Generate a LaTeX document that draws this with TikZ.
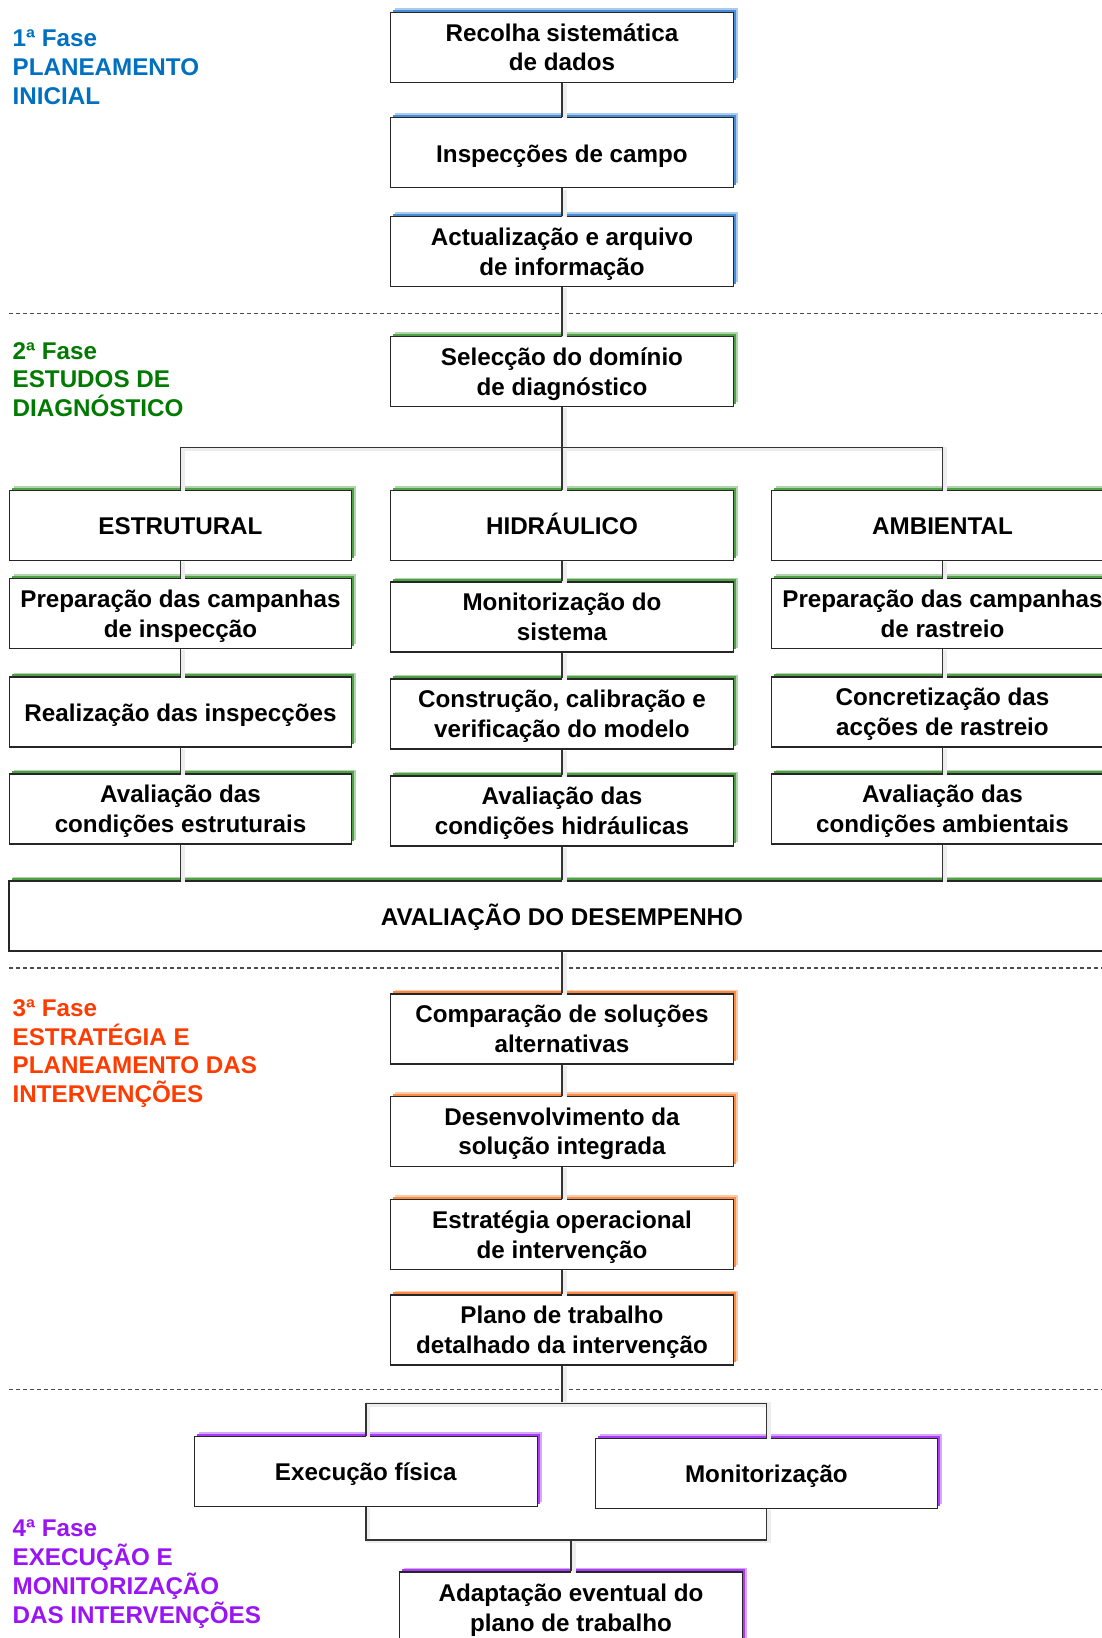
\documentclass[tikz,border=0pt]{standalone}
\usepackage{fontspec}
\setmainfont{Liberation Sans}
\usetikzlibrary{shadows}
\definecolor{phA}{RGB}{0,112,192}
\definecolor{phB}{RGB}{0,122,0}
\definecolor{phC}{RGB}{255,60,0}
\definecolor{phD}{RGB}{155,20,245}
\definecolor{shA}{RGB}{70,140,215}
\definecolor{shB}{RGB}{80,160,70}
\definecolor{shC}{RGB}{250,140,70}
\definecolor{shD}{RGB}{170,60,255}
\newcommand\bxfont{\fontsize{12.1}{14.4}\selectfont\bfseries}
\newcommand\bfbox{\fontsize{12.1}{14.9}\selectfont\bfseries}
\newcommand\topstrut{\rule{0pt}{12.8pt}}
\newcommand\botstrut{\rule[-3.5pt]{0pt}{3.5pt}}
\newcommand\twol[2]{\rule{0pt}{12.16pt}#1\\#2\rule[-3.5pt]{0pt}{3.5pt}}
\begin{document}
\begin{tikzpicture}[x=0.5pt,y=-0.5pt,
  box/.style={draw=black!85, line width=0.6pt, fill=white,
    minimum width=171.3pt, minimum height=35pt, inner sep=0pt,
    align=center, font=\bfbox,
    execute at begin node=\topstrut, execute at end node=\botstrut,
    general shadow={fill=#1, opacity=0.45, shadow xshift=2.2pt, shadow yshift=2.2pt},
    general shadow={fill=#1, shadow xshift=1.3pt, shadow yshift=1.3pt}},
  conn/.style={draw=black!80, line width=0.7pt,
    preaction={draw=black!7, line width=2.2pt, transform canvas={xshift=1.2pt, yshift=-0.6pt}}},
  sep/.style={draw=black!70, line width=0.6pt, dash pattern=on 2pt off 1.5pt},
  phase/.style={inner sep=0pt, align=left, text=#1, font=\bxfont, anchor=north west}]
\useasboundingbox (0,0) rectangle (1102,1638);
\clip (0,0) rectangle (1102,1638);
\fill[white] (0,0) rectangle (1102,1638);

% separators
\coordinate (s1a) at (9,313.4); \coordinate (s1b) at (1102,313.4);
\coordinate (s2a) at (9,968); \coordinate (s2b) at (1102,968);
\coordinate (s3a) at (9,1389.3); \coordinate (s3b) at (1102,1389.3);
\draw[sep] (s1a) -- (s1b);
\draw[sep] (s2a) -- (s2b);
\draw[sep] (s3a) -- (s3b);

% phase labels
\node[phase=phA] (L1) at (12.3,29.3) {1ª Fase\\PLANEAMENTO\\INICIAL};
\node[phase=phB] (L2) at (12.3,341.7) {2ª Fase\\ESTUDOS DE\\DIAGNÓSTICO};
\node[phase=phC] (L3) at (12.3,999) {3ª Fase\\ESTRATÉGIA E\\PLANEAMENTO DAS\\INTERVENÇÕES};
\node[phase=phD] (L4) at (12.3,1519.5) {4ª Fase\\EXECUÇÃO E\\MONITORIZAÇÃO\\DAS INTERVENÇÕES};

% phase 1
\node[box=shA] (n1) at (562,47.3) {\twol{Recolha sistemática}{de dados}};
\node[box=shA] (n2) at (562,152.8) {Inspecções de campo};
\node[box=shA] (n3) at (562,251.5) {\twol{Actualização e arquivo}{de informação}};

% phase 2
\node[box=shB] (sel) at (562,371.5) {\twol{Selecção do domínio}{de diagnóstico}};
\node[box=shB] (est) at (180.5,525.5) {ESTRUTURAL};
\node[box=shB] (hid) at (562,525.5) {HIDRÁULICO};
\node[box=shB] (amb) at (942.5,525.5) {AMBIENTAL};
\node[box=shB] (e2) at (180.5,613.5) {\twol{Preparação das campanhas}{de inspecção}};
\node[box=shB] (h2) at (562,617) {\twol{Monitorização do}{sistema}};
\node[box=shB] (a2) at (942.5,613.5) {\twol{Preparação das campanhas}{de rastreio}};
\node[box=shB] (e3) at (180.5,712) {Realização das inspecções};
\node[box=shB] (h3) at (562,714) {\twol{Construção, calibração e}{verificação do modelo}};
\node[box=shB] (a3) at (942.5,712) {\twol{Concretização das}{acções de rastreio}};
\node[box=shB] (e4) at (180.5,809) {\twol{Avaliação das}{condições estruturais}};
\node[box=shB] (h4) at (562,811) {\twol{Avaliação das}{condições hidráulicas}};
\node[box=shB] (a4) at (942.5,809) {\twol{Avaliação das}{condições ambientais}};
\node[box=shB, minimum width=553pt] (perf) at (562,916) {AVALIAÇÃO DO DESEMPENHO};

% phase 3
\node[box=shC] (c1) at (562,1029) {\twol{Comparação de soluções}{alternativas}};
\node[box=shC] (c2) at (562,1131.3) {\twol{Desenvolvimento da}{solução integrada}};
\node[box=shC] (c3) at (562,1234.5) {\twol{Estratégia operacional}{de intervenção}};
\node[box=shC] (c4) at (562,1330) {\twol{Plano de trabalho}{detalhado da intervenção}};

% phase 4
\node[box=shD] (exe) at (365.8,1471.3) {Execução física};
\node[box=shD] (mon) at (766.4,1473.6) {Monitorização};
\node[box=shD, minimum height=36pt] (ada) at (571,1608) {\twol{Adaptação eventual do}{plano de trabalho}};

% connectors
\coordinate (brM) at (562,447.5);
\coordinate (brB) at (562,1403.3);
\coordinate (jn) at (571,1540);
\draw[conn] (n1) -- (n2);
\draw[conn] (n2) -- (n3);
\draw[conn] (n3) -- (sel);
\draw[conn] (sel) -- (brM);
\draw[conn] (est.north) -- (est.north |- brM) -- (amb.north |- brM) -- (amb.north);
\draw[conn] (brM) -- (hid.north);
\draw[conn] (est) -- (e2);
\draw[conn] (e2) -- (e3);
\draw[conn] (e3) -- (e4);
\draw[conn] (e4.south) -- (e4.south |- perf.north);
\draw[conn] (hid) -- (h2);
\draw[conn] (h2) -- (h3);
\draw[conn] (h3) -- (h4);
\draw[conn] (h4.south) -- (h4.south |- perf.north);
\draw[conn] (amb) -- (a2);
\draw[conn] (a2) -- (a3);
\draw[conn] (a3) -- (a4);
\draw[conn] (a4.south) -- (a4.south |- perf.north);
\draw[conn] (perf) -- (c1);
\draw[conn] (c1) -- (c2);
\draw[conn] (c2) -- (c3);
\draw[conn] (c3) -- (c4);
\draw[conn] (c4) -- (brB);
\draw[conn] (exe.north) -- (exe.north |- brB) -- (mon.north |- brB) -- (mon.north);
\draw[conn] (exe.south) -- (exe.south |- jn) -- (mon.south |- jn) -- (mon.south);
\draw[conn] (jn) -- (ada.north);
\end{tikzpicture}
\end{document}
